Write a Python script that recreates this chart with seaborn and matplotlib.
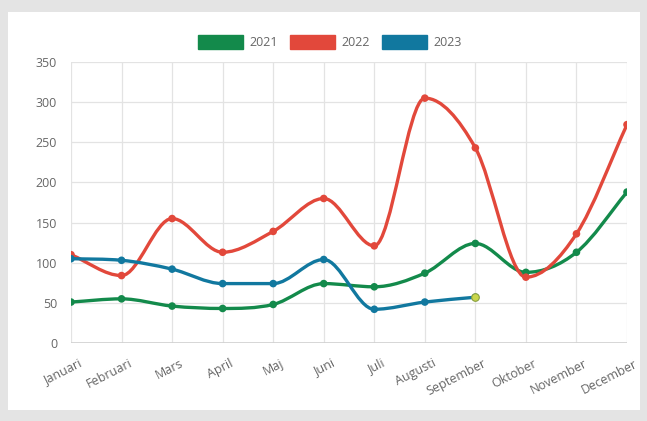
import numpy as np
import pandas as pd
import matplotlib
matplotlib.use("Agg")
import matplotlib.pyplot as plt
import seaborn as sns
from matplotlib.path import Path
from matplotlib.patches import PathPatch, Patch, Rectangle

months = ["Januari", "Februari", "Mars", "April", "Maj", "Juni", "Juli",
          "Augusti", "September", "Oktober", "November", "December"]
v2021 = [51, 55, 46, 43, 48, 74, 70, 87, 124, 88, 113, 188]
v2022 = [110, 84, 155, 113, 139, 180, 121, 305, 243, 82, 136, 272]
v2023 = [105, 103, 92, 74, 74, 104, 42, 51, 57]
years = ["2021", "2022", "2023"]
colors = {"2021": "#138a4b", "2022": "#e2483b", "2023": "#11789f"}

rows = []
for y, vals in zip(years, [v2021, v2022, v2023]):
    for i, v in enumerate(vals):
        rows.append({"x": i, "value": v, "year": y})
df = pd.DataFrame(rows)

sns.set_style("white")
plt.rcParams["font.family"] = ["Open Sans", "DejaVu Sans"]

fig = plt.figure(figsize=(6.47, 4.21), dpi=100)
fig.patch.set_facecolor("#e4e4e4")
fig.patches.append(Rectangle((8 / 647, 11 / 421), 632 / 647, 398 / 421,
                             transform=fig.transFigure, facecolor="white",
                             edgecolor="none", zorder=-10))
ax = fig.add_axes([71 / 647, 78 / 421, 556 / 647, 281 / 421])
ax.set_facecolor("none")


def monotone_path(xs, ys):
    # monotone cubic (Fritsch-Carlson) as bezier segments, like chart.js
    x = np.asarray(xs, float)
    y = np.asarray(ys, float)
    n = len(x)
    d = np.diff(y) / np.diff(x)
    m = np.zeros(n)
    m[0], m[-1] = d[0], d[-1]
    for i in range(1, n - 1):
        m[i] = 0 if d[i - 1] * d[i] <= 0 else (d[i - 1] + d[i]) / 2
    for i in range(n - 1):
        if d[i] == 0:
            m[i] = m[i + 1] = 0
            continue
        a, b = m[i] / d[i], m[i + 1] / d[i]
        s = a * a + b * b
        if s > 9:
            t = 3 / np.sqrt(s)
            m[i], m[i + 1] = t * a * d[i], t * b * d[i]
    verts = [(x[0], y[0])]
    codes = [Path.MOVETO]
    for i in range(n - 1):
        h = (x[i + 1] - x[i]) / 3
        verts += [(x[i] + h, y[i] + m[i] * h),
                  (x[i + 1] - h, y[i + 1] - m[i + 1] * h),
                  (x[i + 1], y[i + 1])]
        codes += [Path.CURVE4] * 3
    return Path(verts, codes)


for y, vals in zip(years, [v2021, v2022, v2023]):
    path = monotone_path(range(len(vals)), vals)
    ax.add_patch(PathPatch(path, facecolor="none", edgecolor=colors[y],
                           lw=2.4, zorder=3, capstyle="round"))

sns.scatterplot(data=df, x="x", y="value", hue="year", palette=colors,
                s=30, edgecolor=None, linewidth=0, legend=False, ax=ax, zorder=4)
# last highlighted point of 2023
ax.scatter([len(v2023) - 1], [v2023[-1]], s=30, color="#c9d64b",
           edgecolor="#8aa040", linewidth=0.8, zorder=5)

ax.set_xlim(0, 11)
ax.set_ylim(0, 350)
ax.set_yticks(range(0, 351, 50))
ax.set_xticks(range(12))
ax.set_xticklabels(months, rotation=27, ha="right", rotation_mode="anchor")
ax.set_xlabel("")
ax.set_ylabel("")
ax.grid(True, color="#e3e3e3", lw=0.9)
ax.axhline(0, color="#d0d0d0", lw=1.2, zorder=1)
for s in ax.spines.values():
    s.set_visible(False)
ax.tick_params(axis="both", length=7, color="#e3e3e3", labelcolor="#666666",
               labelsize=9, pad=3)
for lab in ax.get_xticklabels():
    lab.set_x(lab.get_position()[0])
    lab.set_transform(lab.get_transform() + matplotlib.transforms.ScaledTranslation(
        0.07, 0, fig.dpi_scale_trans))

handles = [Patch(facecolor=colors[y], edgecolor=colors[y], label=y) for y in years]
fig.legend(handles=handles, loc="center", bbox_to_anchor=(0.51, 0.9),
           ncol=3, frameon=False, handlelength=3.6, handleheight=1.3,
           handletextpad=0.5, columnspacing=1.0, fontsize=9,
           labelcolor="#666666")

fig.savefig("out.png", dpi=100, facecolor=fig.get_facecolor())
